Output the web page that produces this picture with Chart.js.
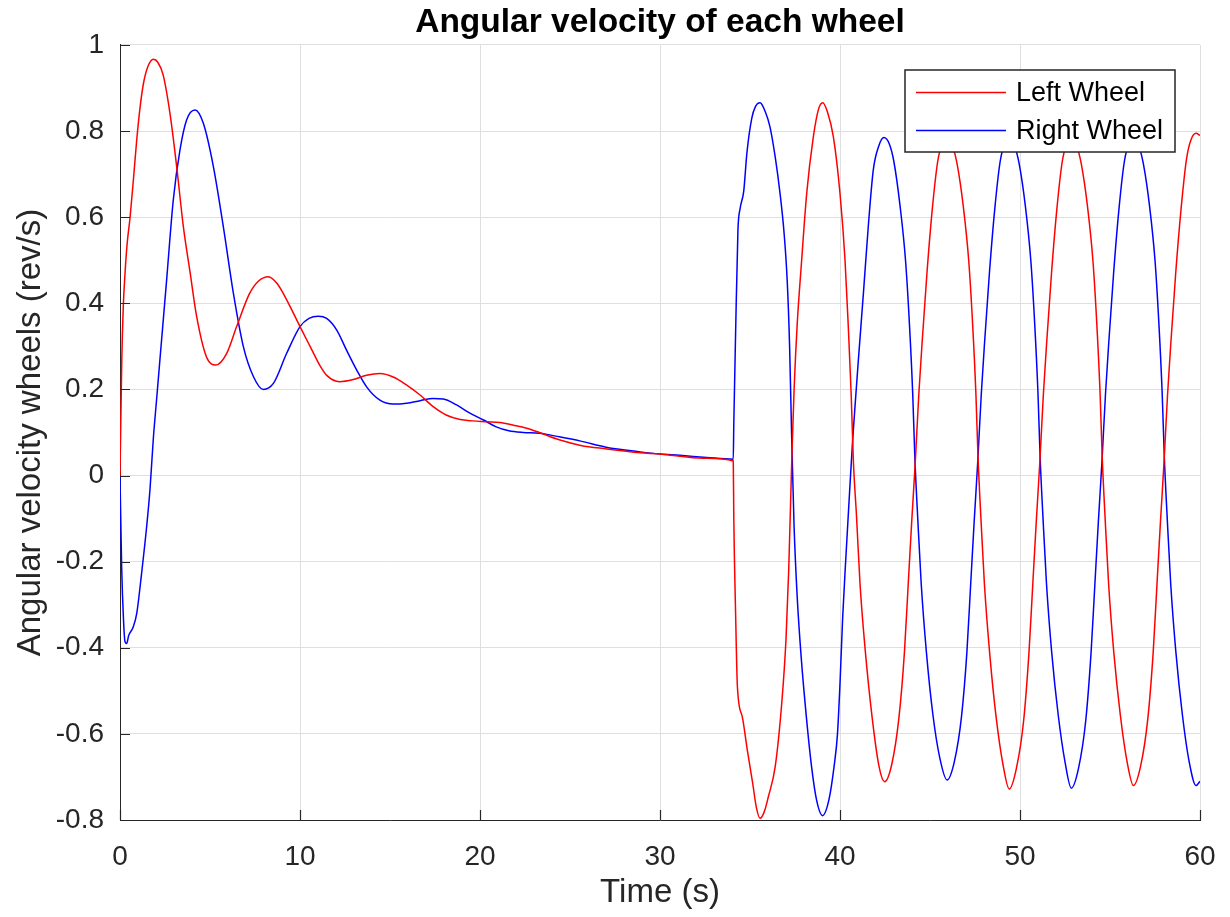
<!DOCTYPE html>
<html>
<head>
<meta charset="utf-8">
<title>Angular velocity of each wheel</title>
<script src="https://cdn.jsdelivr.net/npm/chart.js@4.4.1/dist/chart.umd.min.js"></script>
<style>
  html, body { margin: 0; padding: 0; background: #fff; }
  canvas { display: block; }
</style>
</head>
<body>
<canvas id="wheelChart" width="1230" height="917"></canvas>
<script>
// [time (s), angular velocity (rev/s)]
const leftWheel = [
  [0, 0], [0.05, 0.14], [0.1, 0.27], [0.18, 0.39], [0.28, 0.47], [0.4, 0.54], [0.56, 0.6], [0.75, 0.69],
  [0.93, 0.78], [1.1, 0.85], [1.3, 0.91], [1.55, 0.95], [1.85, 0.967], [2.1, 0.96], [2.4, 0.93], [2.78, 0.84],
  [3.15, 0.717], [3.52, 0.578], [3.9, 0.47], [4.26, 0.369], [4.8, 0.276], [5.33, 0.257], [5.93, 0.284], [6.48, 0.346],
  [7.2, 0.423], [7.7, 0.452], [8.24, 0.462], [8.75, 0.445], [9.26, 0.408], [10, 0.346], [10.56, 0.3], [11.1, 0.256],
  [11.5, 0.232], [12.2, 0.218], [12.96, 0.223], [13.7, 0.233], [14.44, 0.237], [15.18, 0.229], [15.93, 0.21], [16.67, 0.187],
  [17.4, 0.16], [18.15, 0.14], [18.9, 0.13], [19.6, 0.127], [20.4, 0.125], [21.1, 0.123], [21.85, 0.117], [22.6, 0.11],
  [23.3, 0.1], [24.4, 0.083], [25.6, 0.07], [27, 0.062], [28.9, 0.053], [30, 0.05], [31.1, 0.045], [32.6, 0.04],
  [34.07, 0.034],
  [34.1, -0.1], [34.2, -0.32], [34.3, -0.49], [34.57, -0.56], [34.86, -0.64], [35.15, -0.715], [35.35, -0.77], [35.56, -0.796],
  [35.8, -0.78], [36.02, -0.746], [36.4, -0.676], [36.78, -0.52], [37.0, -0.38], [37.15, -0.22], [37.33, 0.05], [37.45, 0.2],
  [37.62, 0.35], [37.87, 0.5], [38.15, 0.655], [38.52, 0.787], [38.8, 0.85], [39.04, 0.866], [39.3, 0.845], [39.63, 0.787],
  [40.0, 0.655], [40.28, 0.5], [40.46, 0.346], [40.62, 0.19], [40.74, 0.036], [40.92, -0.096], [41.11, -0.25], [41.4, -0.405],
  [41.78, -0.56], [42.17, -0.676], [42.48, -0.711],
  [42.88, -0.67], [43.28, -0.56], [43.58, -0.41], [43.78, -0.26], [43.98, -0.11], [44.18, 0.03], [44.38, 0.19], [44.58, 0.32],
  [44.83, 0.47], [45.13, 0.62], [45.43, 0.73], [45.68, 0.77], [45.95, 0.78],
  [46.25, 0.765], [46.5, 0.725], [46.85, 0.625], [47.15, 0.5], [47.37, 0.35], [47.55, 0.19], [47.67, 0.04], [47.83, -0.1],
  [48.02, -0.25], [48.31, -0.41], [48.67, -0.56], [49.05, -0.67], [49.4, -0.728],
  [49.8, -0.68], [50.2, -0.57], [50.5, -0.41], [50.7, -0.26], [50.9, -0.11], [51.1, 0.03], [51.3, 0.19], [51.5, 0.32],
  [51.75, 0.47], [52.05, 0.62], [52.35, 0.73], [52.6, 0.77], [52.85, 0.78],
  [53.15, 0.765], [53.4, 0.725], [53.75, 0.625], [54.05, 0.5], [54.27, 0.35], [54.45, 0.19], [54.57, 0.04], [54.73, -0.1],
  [54.92, -0.25], [55.21, -0.41], [55.57, -0.555], [55.95, -0.665], [56.3, -0.72],
  [56.7, -0.675], [57.1, -0.565], [57.4, -0.41], [57.6, -0.26], [57.8, -0.11], [58.0, 0.03], [58.2, 0.19], [58.4, 0.32],
  [58.65, 0.47], [58.95, 0.62], [59.25, 0.735], [59.5, 0.78], [59.78, 0.795], [60, 0.79]
];

const rightWheel = [
  [0, 0], [0.09, -0.21], [0.2, -0.34], [0.28, -0.386], [0.37, -0.39], [0.48, -0.372], [0.56, -0.365], [0.74, -0.351],
  [0.93, -0.32], [1.2, -0.227], [1.48, -0.119], [1.67, -0.03], [1.85, 0.085], [2.04, 0.18], [2.22, 0.27], [2.59, 0.454],
  [2.96, 0.64], [3.33, 0.756], [3.7, 0.826], [4.17, 0.849], [4.63, 0.818], [5.19, 0.717], [5.74, 0.578], [6.3, 0.423],
  [6.85, 0.3], [7.41, 0.23], [7.96, 0.2], [8.52, 0.214], [9.26, 0.284], [10, 0.346], [10.5, 0.365], [11.02, 0.37],
  [11.48, 0.365], [12.04, 0.338], [12.6, 0.29], [13.15, 0.245], [13.7, 0.206], [14.44, 0.175], [15.18, 0.166], [15.93, 0.168],
  [16.67, 0.174], [17.4, 0.179], [17.96, 0.178], [18.7, 0.164], [19.44, 0.145], [20.2, 0.129], [20.9, 0.113], [21.6, 0.104],
  [22.4, 0.1], [23.3, 0.098], [24.4, 0.09], [25.6, 0.08], [27, 0.066], [28.9, 0.055], [30, 0.05], [31.1, 0.047],
  [32.6, 0.042], [34.07, 0.038],
  [34.1, 0.12], [34.2, 0.33], [34.33, 0.57], [34.45, 0.62], [34.65, 0.66], [34.83, 0.75], [35.1, 0.83], [35.3, 0.857],
  [35.56, 0.866], [35.85, 0.845], [36.11, 0.81], [36.4, 0.74], [36.67, 0.655], [36.9, 0.56], [37.07, 0.45], [37.2, 0.3],
  [37.32, 0.08], [37.45, -0.12], [37.62, -0.28], [37.84, -0.42], [38.13, -0.56], [38.42, -0.676], [38.7, -0.754], [39.03, -0.79],
  [39.38, -0.754], [39.67, -0.676], [39.86, -0.6], [40.0, -0.483], [40.15, -0.328], [40.34, -0.18], [40.53, -0.04], [40.7, 0.08],
  [40.85, 0.17], [41.02, 0.268], [41.3, 0.423], [41.57, 0.578], [41.85, 0.71], [42.15, 0.765], [42.44, 0.785],
  [42.74, 0.77], [42.99, 0.73], [43.34, 0.625], [43.64, 0.5], [43.86, 0.35], [44.04, 0.19], [44.16, 0.04], [44.32, -0.1],
  [44.51, -0.25], [44.8, -0.41], [45.16, -0.555], [45.54, -0.655], [45.95, -0.707],
  [46.35, -0.665], [46.75, -0.56], [47.05, -0.41], [47.25, -0.26], [47.45, -0.11], [47.65, 0.03], [47.85, 0.19], [48.05, 0.32],
  [48.3, 0.47], [48.6, 0.62], [48.9, 0.73], [49.15, 0.77], [49.4, 0.78],
  [49.7, 0.765], [49.95, 0.725], [50.3, 0.625], [50.6, 0.5], [50.82, 0.35], [51.0, 0.19], [51.12, 0.04], [51.28, -0.1],
  [51.47, -0.25], [51.76, -0.41], [52.12, -0.555], [52.5, -0.665], [52.85, -0.726],
  [53.25, -0.68], [53.65, -0.57], [53.95, -0.41], [54.15, -0.26], [54.35, -0.11], [54.55, 0.03], [54.75, 0.19], [54.95, 0.32],
  [55.2, 0.47], [55.5, 0.62], [55.8, 0.73], [56.05, 0.77], [56.3, 0.78],
  [56.6, 0.765], [56.85, 0.725], [57.2, 0.625], [57.5, 0.5], [57.72, 0.35], [57.9, 0.19], [58.02, 0.04], [58.18, -0.1],
  [58.37, -0.25], [58.66, -0.41], [59.02, -0.555], [59.4, -0.665], [59.78, -0.72], [60, -0.71]
];

const seriesNames = ['Left Wheel', 'Right Wheel'];
const seriesColors = ['#ff0000', '#0000ff'];

const FONT = '"Liberation Sans", Arial, Helvetica, sans-serif';
const AXIS_GREY = '#262626';

// inward tick marks + boxed legend inside the plot area
const axesExtras = {
  id: 'axesExtras',
  afterDatasetsDraw(chart) {
    const { ctx, chartArea, scales } = chart;
    ctx.save();
    ctx.strokeStyle = AXIS_GREY;
    ctx.lineWidth = 1.2;
    ctx.beginPath();
    scales.y.ticks.forEach(t => {
      const y = Math.round(scales.y.getPixelForValue(t.value)) + 0.5;
      ctx.moveTo(chartArea.left, y);
      ctx.lineTo(chartArea.left + 10, y);
    });
    scales.x.ticks.forEach(t => {
      const x = Math.round(scales.x.getPixelForValue(t.value)) + 0.5;
      ctx.moveTo(x, chartArea.bottom);
      ctx.lineTo(x, chartArea.bottom - 10);
    });
    ctx.stroke();

    // legend
    const boxW = 270, boxH = 82;
    const bx = chartArea.right - 25 - boxW;
    const by = chartArea.top + 25;
    ctx.fillStyle = '#ffffff';
    ctx.fillRect(bx, by, boxW, boxH);
    ctx.lineWidth = 1.5;
    ctx.strokeStyle = AXIS_GREY;
    ctx.strokeRect(bx, by, boxW, boxH);

    ctx.font = '27px ' + FONT;
    ctx.textBaseline = 'middle';
    ctx.textAlign = 'left';
    chart.data.datasets.forEach((ds, i) => {
      const y = by + 22.5 + i * 38;
      ctx.strokeStyle = ds.borderColor;
      ctx.lineWidth = 1.5;
      ctx.beginPath();
      ctx.moveTo(bx + 11, y);
      ctx.lineTo(bx + 101, y);
      ctx.stroke();
      ctx.fillStyle = '#000000';
      ctx.fillText(ds.label, bx + 111, y + 1);
    });
    ctx.restore();
  }
};

Chart.defaults.font.family = FONT;

new Chart(document.getElementById('wheelChart'), {
  type: 'line',
  data: {
    datasets: [
      {
        label: seriesNames[0],
        data: leftWheel.map(p => ({ x: p[0], y: p[1] })),
        borderColor: seriesColors[0]
      },
      {
        label: seriesNames[1],
        data: rightWheel.map(p => ({ x: p[0], y: p[1] })),
        borderColor: seriesColors[1]
      }
    ]
  },
  options: {
    responsive: false,
    animation: false,
    layout: { padding: { left: 0, right: 30, top: 0, bottom: 0 } },
    elements: {
      point: { radius: 0 },
      line: { borderWidth: 1.5, cubicInterpolationMode: 'monotone', fill: false }
    },
    plugins: {
      legend: { display: false },
      tooltip: { enabled: false },
      title: {
        display: true,
        text: 'Angular velocity of each wheel',
        fullSize: false,
        color: '#000000',
        font: { size: 33.5, weight: 'bold' },
        padding: { top: 3, bottom: 1.8 }
      }
    },
    scales: {
      x: {
        type: 'linear',
        min: 0,
        max: 60,
        ticks: { stepSize: 10, padding: 20, maxRotation: 0, color: AXIS_GREY, font: { size: 28 } },
        grid: { color: '#dfdfdf', drawTicks: false },
        border: { color: AXIS_GREY, width: 1 },
        title: {
          display: true,
          text: 'Time (s)',
          color: AXIS_GREY,
          font: { size: 33 },
          padding: { top: 0, bottom: 4 }
        },
        // fixed axis band; end labels may hang over the plot edges
        afterFit: s => {
          s.height = 97;
          s.paddingLeft = 0;
          s.paddingRight = 0;
        }
      },
      y: {
        min: -0.8,
        max: 1,
        ticks: {
          stepSize: 0.2,
          padding: 16,
          color: AXIS_GREY,
          font: { size: 28 },
          callback: v => String(Math.round(v * 10) / 10)
        },
        grid: { color: '#dfdfdf', drawTicks: false },
        border: { color: AXIS_GREY, width: 1 },
        title: {
          display: true,
          text: 'Angular velocity wheels (rev/s)',
          color: AXIS_GREY,
          font: { size: 33 },
          padding: { top: 11, bottom: 0 }
        },
        afterFit: s => {
          s.width = 120;
          s.paddingTop = 0;
          s.paddingBottom = 0;
        }
      }
    }
  },
  plugins: [axesExtras]
});
</script>
</body>
</html>
